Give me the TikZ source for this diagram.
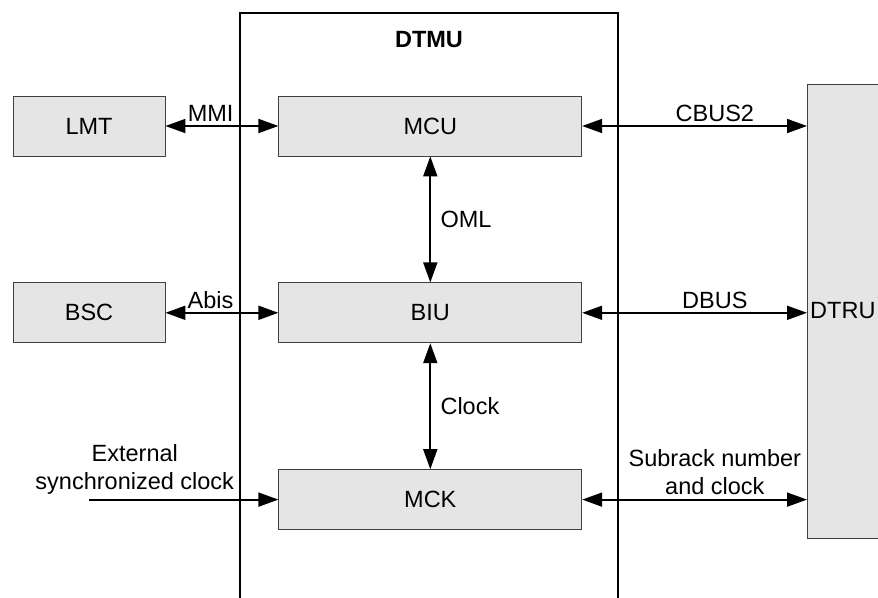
\documentclass[tikz,border=0pt]{standalone}
\usepackage{fontspec}
\setmainfont{Liberation Sans}
\usetikzlibrary{arrows.meta,positioning}

\begin{document}
\begin{tikzpicture}[x=1pt,y=-1pt,font=\fontsize{23.5}{28}\selectfont,
  >={Triangle[length=20pt,width=14pt]}]
\tikzstyle{unit}=[draw=black!75,fill=black!10,line width=0.8pt,minimum height=60pt,inner sep=0pt]
\tikzstyle{link}=[<->,line width=1.8pt]
\clip (0,0) rectangle (878,597);
%
\node[draw,line width=1.6pt,minimum width=378pt,minimum height=640pt,anchor=north] (dtmu) at (429,12) {};
\node[font=\fontsize{23.5}{28}\selectfont\bfseries,below=16pt of dtmu.north] (labdtmu) {DTMU};
%
\node[unit,minimum width=152pt] (lmt) at (89,126) {LMT};
  \node[unit,minimum width=303pt] (mcu) [right=113pt of lmt] {MCU};
  \node[unit,minimum width=303pt] (biu) [below=126pt of mcu] {BIU};
  \node[unit,minimum width=303pt] (mck) [below=126pt of biu] {MCK};
  \node[unit,minimum width=152pt] (bsc) [below=126pt of lmt] {BSC};
  \node[unit,minimum width=120pt,minimum height=454pt,anchor=west] (dtru) at (807,311) {};
  \node[inner sep=2pt,right=1pt of dtru.west] (labdtru) {DTRU};
  \coordinate (ext) at ([xshift=-189pt]mck.west);

  \path (lmt) edge[link] node[above,pos=0.4] {MMI} (mcu);
  \path (bsc) edge[link] node[above,pos=0.4] {Abis} (biu);
  \path (mcu) edge[link] node[above,pos=0.59] {CBUS2} (mcu -| dtru.west);
  \path (biu) edge[link] node[above,pos=0.59] {DBUS} (biu -| dtru.west);
  \path (mck) edge[link] node[above,pos=0.59,align=center,inner sep=4pt] {Subrack number\\and clock} (mck -| dtru.west);
  \path (mcu) edge[link] node[right,xshift=6pt] {OML} (biu);
  \path (biu) edge[link] node[right,xshift=6pt] {Clock} (mck);
  \path (ext) edge[->,line width=1.8pt] node[above,pos=0.24,align=center,inner sep=4pt] {External\\synchronized clock} (mck);
\end{tikzpicture}
\end{document}
